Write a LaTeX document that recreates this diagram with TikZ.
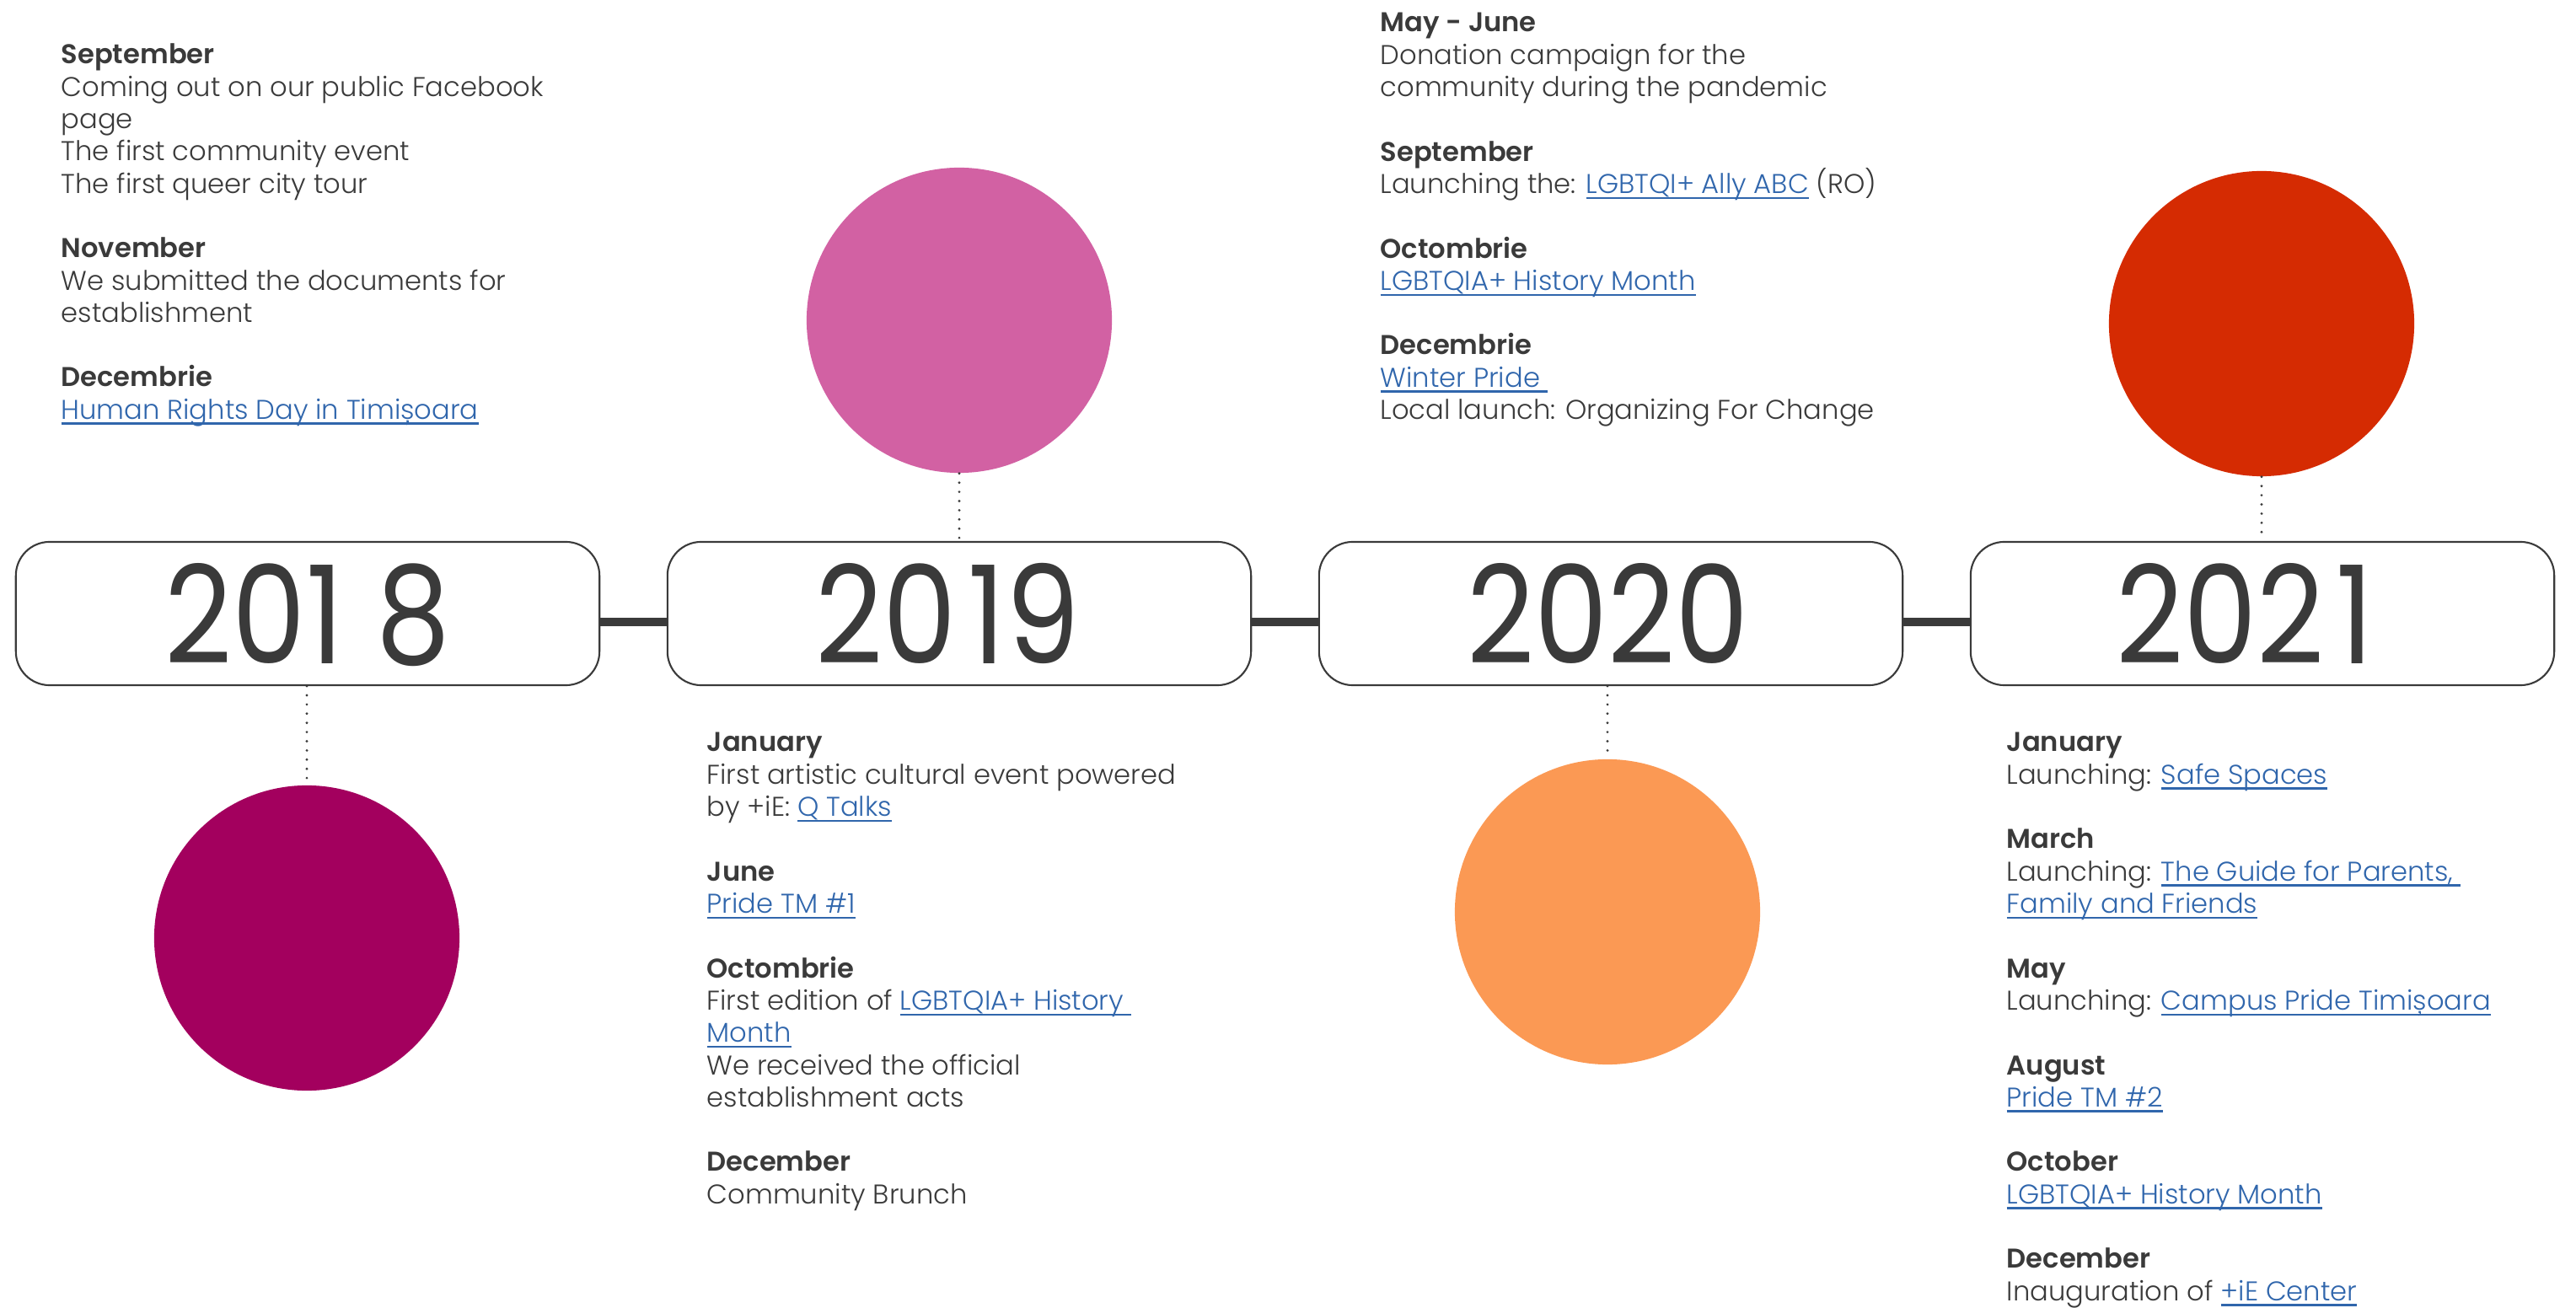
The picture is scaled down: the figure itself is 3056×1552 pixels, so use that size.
\documentclass[tikz,border=0pt]{standalone}
\usepackage{fontspec}
\setmainfont{Poppins Light}[BoldFont=Poppins SemiBold]
\newfontfamily\yearfont{Poppins}
\definecolor{txtgray}{RGB}{58,58,58}
\definecolor{lnk}{RGB}{48,102,172}
\definecolor{cA}{RGB}{163,0,94}
\definecolor{cB}{RGB}{210,97,163}
\definecolor{cC}{RGB}{251,153,84}
\definecolor{cD}{RGB}{213,43,2}
\newcommand\lk[1]{{\color{lnk}\setbox0=\hbox{#1}\rlap{\rule[-0.2em]{\wd0}{0.07em}}\box0}}
\newcommand\tl[5]{\node[txt] (#1) at (#2,{#3+38.3*#4}) {#5};}
\begin{document}
\begin{tikzpicture}[x=0.01cm,y=-0.01cm,
  txt/.style={anchor=base west,inner sep=0pt,text=txtgray,font=\fontsize{9.15pt}{11pt}\selectfont},
  yearbox/.style={draw=txtgray,line width=0.6pt,rounded corners=0.4cm,minimum width=6.92cm,minimum height=1.7cm,inner sep=0pt,text depth=0pt,text=txtgray,font=\yearfont\fontsize{46pt}{50pt}\selectfont},
  dot/.style={circle,minimum size=3.62cm,inner sep=0pt},
  conn/.style={draw=txtgray,line width=2.85pt},
  dotline/.style={draw=txtgray,line width=0.9pt,line cap=round,dash pattern=on 0pt off 3.1pt}]
\useasboundingbox (0,0) rectangle (3056,1552);
\clip (0,0) rectangle (3056,1552);
% year boxes
\node[yearbox] (b1) at (365,728) {\scalebox{0.86}[1]{201\kern0.28em8}};
\node[yearbox] (b2) at (1138,728) {\scalebox{0.86}[1]{20\kern0.1em19\kern0.2em}};
\node[yearbox] (b3) at (1911,728) {\scalebox{0.86}[1]{2020\kern0.05em}};
\node[yearbox] (b4) at (2684,728) {\scalebox{0.86}[1]{202\kern0.1em1\kern0.3em}};
\draw[conn] ([yshift=-0.1cm]b1.east) -- ([yshift=-0.1cm]b2.west);
\draw[conn] ([yshift=-0.1cm]b2.east) -- ([yshift=-0.1cm]b3.west);
\draw[conn] ([yshift=-0.1cm]b3.east) -- ([yshift=-0.1cm]b4.west);
% circles
\node[dot,fill=cA] (c1) at (364,1113) {};
\node[dot,fill=cB] (c2) at (1138,380) {};
\node[dot,fill=cC] (c3) at (1907,1082) {};
\node[dot,fill=cD] (c4) at (2683,384) {};
\draw[dotline] (c1.north |- b1.south) -- (c1.north);
\draw[dotline] (c2.south) -- (c2.south |- b2.north);
\draw[dotline] (c3.north |- b3.south) -- (c3.north);
\draw[dotline] (c4.south) -- (c4.south |- b4.north);
% 2018
\tl{a0}{72}{76}{0}{\textbf{September}}
\tl{a1}{72}{76}{1}{Coming out on our public Facebook}
\tl{a2}{72}{76}{2}{page}
\tl{a3}{72}{76}{3}{The first community event}
\tl{a4}{72}{76}{4}{The first queer city tour}
\tl{a6}{72}{76}{6}{\textbf{November}}
\tl{a7}{72}{76}{7}{We submitted the documents for}
\tl{a8}{72}{76}{8}{establishment}
\tl{a10}{72}{76}{10}{\textbf{Decembrie}}
\tl{a11}{72}{76}{11}{\lk{Human Rights Day in Timișoara}}
% 2019
\tl{d0}{838}{892}{0}{\textbf{January}}
\tl{d1}{838}{892}{1}{First artistic cultural event powered}
\tl{d2}{838}{892}{2}{by +iE: \lk{Q Talks}}
\tl{d4}{838}{892}{4}{\textbf{June}}
\tl{d5}{838}{892}{5}{\lk{Pride TM \#1}}
\tl{d7}{838}{892}{7}{\textbf{Octombrie}}
\tl{d8}{838}{892}{8}{First edition of \lk{LGBTQIA+ History\ }}
\tl{d9}{838}{892}{9}{\lk{Month}}
\tl{d10}{838}{892}{10}{We received the official}
\tl{d11}{838}{892}{11}{establishment acts}
\tl{d13}{838}{892}{13}{\textbf{December}}
\tl{d14}{838}{892}{14}{Community Brunch}
% 2020
\tl{e0}{1637}{38}{0}{\textbf{May - June}}
\tl{e1}{1637}{38}{1}{Donation campaign for the}
\tl{e2}{1637}{38}{2}{community during the pandemic}
\tl{e4}{1637}{38}{4}{\textbf{September}}
\tl{e5}{1637}{38}{5}{Launching the: \lk{LGBTQI+ Ally ABC} (RO)}
\tl{e7}{1637}{38}{7}{\textbf{Octombrie}}
\tl{e8}{1637}{38}{8}{\lk{LGBTQIA+ History Month}}
\tl{e10}{1637}{38}{10}{\textbf{Decembrie}}
\tl{e11}{1637}{38}{11}{\lk{Winter Pride\ }}
\tl{e12}{1637}{38}{12}{Local launch: Organizing For Change}
% 2021
\tl{f0}{2380}{892}{0}{\textbf{January}}
\tl{f1}{2380}{892}{1}{Launching: \lk{Safe Spaces}}
\tl{f3}{2380}{892}{3}{\textbf{March}}
\tl{f4}{2380}{892}{4}{Launching: \lk{The Guide for Parents,\ }}
\tl{f5}{2380}{892}{5}{\lk{Family and Friends}}
\tl{f7}{2380}{892}{7}{\textbf{May}}
\tl{f8}{2380}{892}{8}{Launching: \lk{Campus Pride Timișoara}}
\tl{f10}{2380}{892}{10}{\textbf{August}}
\tl{f11}{2380}{892}{11}{\lk{Pride TM \#2}}
\tl{f13}{2380}{892}{13}{\textbf{October}}
\tl{f14}{2380}{892}{14}{\lk{LGBTQIA+ History Month}}
\tl{f16}{2380}{892}{16}{\textbf{December}}
\tl{f17}{2380}{892}{17}{Inauguration of \lk{+iE Center}}
\end{tikzpicture}
\end{document}
